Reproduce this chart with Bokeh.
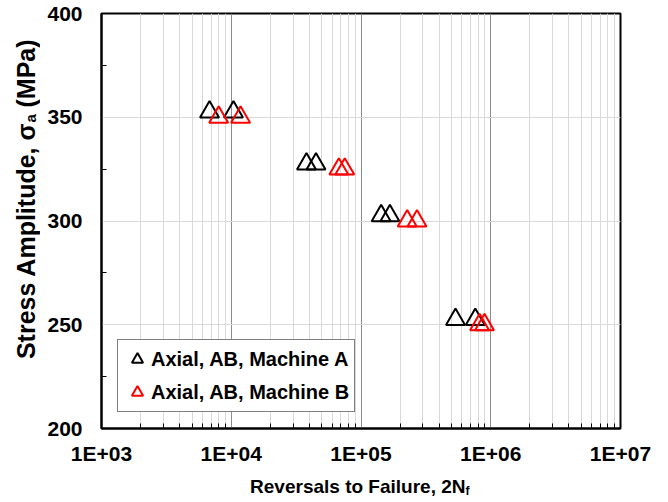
import numpy as np
from bokeh.plotting import figure
from bokeh.layouts import row, column
from bokeh.models import FixedTicker, Legend, LegendItem, Label
from bokeh.embed import file_html
from bokeh.resources import INLINE

# Axial S-N results for as-built (AB) specimens tested on two machines
reversals_a = [6.8e3, 1.04e4, 3.8e4, 4.5e4, 1.43e5, 1.67e5, 5.35e5, 7.6e5]
stress_a = [352.5, 352.5, 327.5, 327.5, 302.5, 302.5, 252.5, 252.5]
reversals_b = [8.0e3, 1.18e4, 6.75e4, 7.5e4, 2.27e5, 2.7e5, 8.2e5, 8.95e5]
stress_b = [350, 350, 325, 325, 300, 300, 250, 250]

label_a = "Axial, AB, Machine A"
label_b = "Axial, AB, Machine B"

x_ticks = [1000, 10000, 100000, 1000000, 10000000]
x_tick_labels = ["1E+03", "1E+04", "1E+05", "1E+06", "1E+07"]
y_ticks = [200, 250, 300, 350, 400]
y_minor_ticks = [225, 275, 325, 375]

# intermediate decade marks 2..9 x 10^n
x_minor_ticks = [m * d for d in x_ticks[:-1] for m in range(2, 10)]

FONT = "Liberation Sans"

# ---- main chart -------------------------------------------------------
p = figure(
    width=628, height=470,
    x_axis_type="log", x_range=(1e3, 1e7), y_range=(200, 400),
    output_backend="svg", toolbar_location=None,
    min_border_left=61, min_border_right=48,
    min_border_top=13, min_border_bottom=42,
)
p.background_fill_color = "white"
p.border_fill_color = "white"
p.outline_line_color = "black"
p.outline_line_width = 2

xt = FixedTicker(ticks=x_ticks, minor_ticks=x_minor_ticks)
yt = FixedTicker(ticks=y_ticks, minor_ticks=y_minor_ticks)
p.xaxis.ticker = xt
p.yaxis.ticker = yt
p.xgrid.ticker = xt
p.ygrid.ticker = yt

p.xaxis.major_label_overrides = dict(zip(x_ticks, x_tick_labels))

p.xgrid.grid_line_color = "#8c8c8c"
p.xgrid.minor_grid_line_color = "#d9d9d9"
p.ygrid.grid_line_color = "#d9d9d9"

for ax in (p.xaxis, p.yaxis):
    ax.axis_line_color = "black"
    ax.axis_line_width = 2
    ax.major_tick_in = 0
    ax.major_tick_out = 0
    ax.minor_tick_in = 5
    ax.minor_tick_out = 0
    ax.minor_tick_line_color = "black"
    ax.minor_tick_line_width = 1
    ax.major_label_text_font = FONT
    ax.major_label_text_font_style = "bold"
    ax.major_label_text_font_size = "21px"
    ax.major_label_text_color = "black"
p.xaxis.major_label_standoff = 13
p.yaxis.major_label_standoff = 19

ra = p.scatter(reversals_a, stress_a, marker="triangle", size=19,
               fill_color=None, line_color="black", line_width=2)
rb = p.scatter(reversals_b, stress_b, marker="triangle", size=19,
               fill_color=None, line_color="#ff0000", line_width=2)

legend = Legend(
    items=[LegendItem(label=label_a, renderers=[ra]),
           LegendItem(label=label_b, renderers=[rb])],
    location=(16, 16),
    padding=5, spacing=5, margin=0,
    glyph_width=28, glyph_height=28, label_height=28,
    label_standoff=0,
    label_text_font=FONT, label_text_font_style="bold",
    label_text_font_size="20px", label_text_color="black",
    border_line_color="black", border_line_width=1.5,
    background_fill_color="white", background_fill_alpha=1,
)
p.add_layout(legend)


# ---- strips that carry the axis titles (with subscripts) ---------------
def text_strip(w, h):
    s = figure(width=w, height=h, x_range=(0, w), y_range=(0, h),
               output_backend="svg", toolbar_location=None,
               x_axis_location=None, y_axis_location=None, min_border=0)
    s.grid.visible = False
    s.outline_line_color = None
    s.background_fill_color = "white"
    s.border_fill_color = "white"
    return s


title_style = dict(x_units="screen", y_units="screen", text_font=FONT,
                   text_font_style="bold", text_color="black",
                   text_baseline="alphabetic")

left = text_strip(40, 502)
left.add_layout(Label(x=25, y=380, text="Stress Amplitude, σ", angle=np.pi / 2,
                      text_align="right", text_font_size="25px", **title_style))
left.add_layout(Label(x=30, y=380, text="a", angle=np.pi / 2,
                      text_align="left", text_font_size="15px", **title_style))
left.add_layout(Label(x=25, y=395, text="(MPa)", angle=np.pi / 2,
                      text_align="left", text_font_size="25px", **title_style))

# the strip's frame lines up with the chart frame (x measured from its left edge)
bottom = text_strip(628, 32)
bottom.add_layout(Label(x=364, y=16, text="Reversals to Failure, 2N",
                        text_align="right", text_font_size="19px", **title_style))
bottom.add_layout(Label(x=364, y=12, text="f",
                        text_align="left", text_font_size="12px", **title_style))

page = row(left, column(p, bottom, spacing=0), spacing=0)

open("out.html", "w").write(file_html(page, INLINE))
